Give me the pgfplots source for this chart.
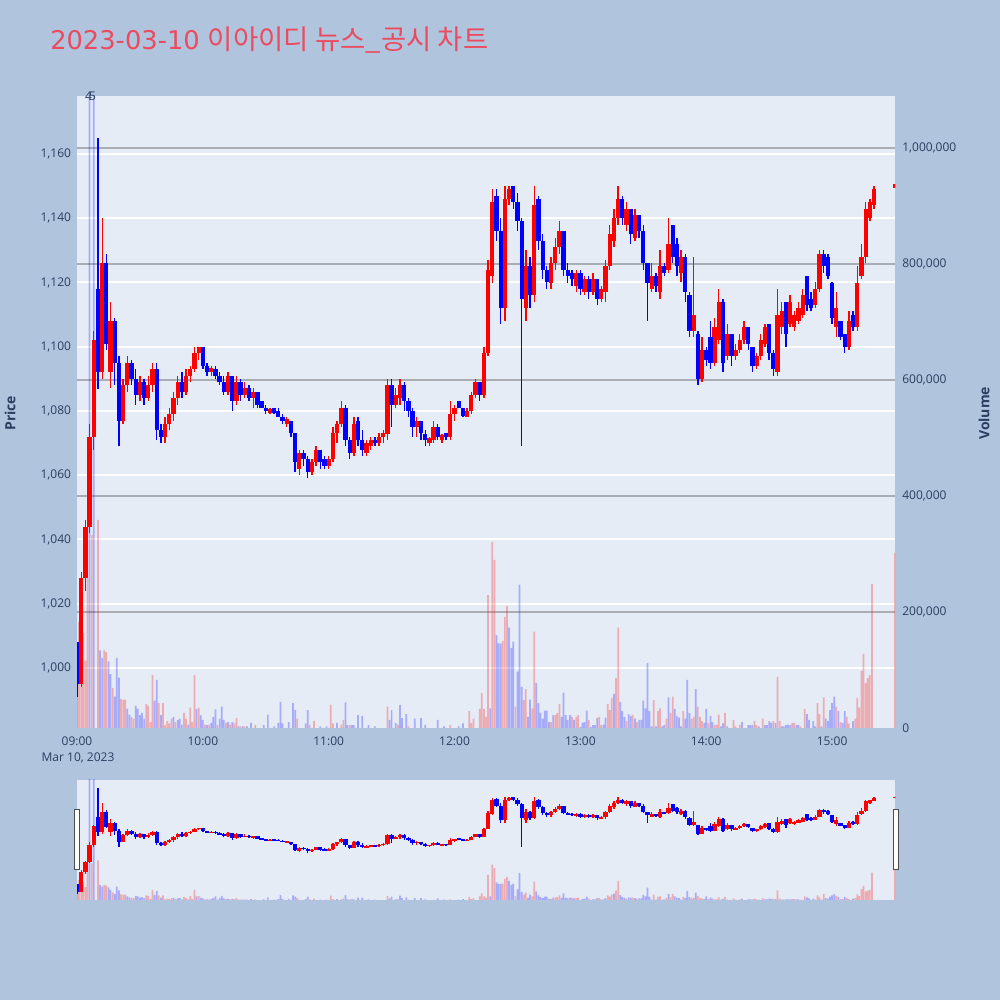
\documentclass[border=0pt]{standalone}
\usepackage{pgfplots}
\pgfplotsset{compat=1.18}
\usepackage{pgfplotstable}
\usepackage{fontspec}
\setmainfont{Open Sans}
\newfontfamily\cjk{Noto Sans CJK KR}
\newfontfamily\dvs{DejaVu Sans}

\definecolor{pagebg}{HTML}{B0C4DE}
\definecolor{plotbg}{HTML}{E5ECF6}
\definecolor{txt}{HTML}{2A3F5F}
\definecolor{ttl}{RGB}{236,75,95}
\definecolor{upc}{RGB}{255,0,0}
\definecolor{dnc}{RGB}{0,0,255}
\definecolor{vgrid}{RGB}{170,174,180}

% 2-minute candles, t = minutes after 09:00
\pgfplotstableread{
t o h l c
2 995 1030 994 1028
4 1028 1046 1024 1044
6 1044 1076 1042 1072
8 1072 1105 1068 1102
12 1092 1140 1090 1126
16 1092 1114 1087 1108
22 1077 1090 1076 1088
24 1088 1097 1086 1095
30 1085 1091 1083 1089
34 1084 1091 1083 1088
36 1088 1095 1086 1093
42 1072 1078 1070 1076
44 1076 1081 1074 1079
46 1079 1086 1077 1084
48 1084 1091 1082 1089
52 1086 1093 1085 1091
54 1091 1094 1089 1093
56 1093 1100 1092 1098
58 1098 1100 1096 1100
64 1092 1094 1091 1093.5
72 1086 1092 1085 1091
76 1083 1091 1082 1089
80 1085 1089 1084 1087
84 1084 1087 1081 1086
92 1079.5 1081 1079 1080.5
100 1076 1078 1075 1077.5
106 1062 1068 1060 1067
112 1061 1065 1060 1064
114 1064 1069 1063 1068
120 1063 1066 1062 1065
122 1065 1075 1064 1073
124 1073 1077 1070 1076
126 1076 1083 1075 1081
132 1067 1078 1066 1076
138 1067 1071 1066 1070
140 1069 1072 1068 1071
144 1070 1073 1069 1072
146 1072 1074 1070 1073
148 1073 1090 1071 1088
152 1082 1087 1081 1085
154 1084 1090 1082 1088
162 1075 1078 1072 1077
168 1070 1072 1069 1071.5
170 1071 1077 1070 1075
174 1071 1073 1070 1072.5
178 1072 1083 1071 1079
180 1079 1082 1077 1081
186 1078 1081 1078 1080
188 1080 1086 1079 1085
190 1085 1090 1084 1089
194 1085 1100 1084 1098
196 1098 1127 1097 1124
198 1122 1149 1120 1145
204 1112 1150 1108 1146
206 1146 1150 1144 1149
214 1112 1130 1108 1125
218 1116 1150 1114 1144
226 1120 1128 1118 1126
228 1126 1134 1124 1131
230 1131 1139 1129 1136
238 1119 1124 1117 1123
242 1117 1122 1116 1121
246 1117 1123 1116 1121
250 1115 1119 1114 1118
252 1117 1127 1114 1125
254 1125 1138 1124 1135
256 1133 1143 1131 1140
258 1140 1150 1138 1146
262 1138 1145 1136 1143
266 1134 1143 1133 1141
274 1118 1126 1117 1122
278 1117 1130 1115 1125
282 1124 1140 1123 1132
288 1123 1130 1120 1128
294 1105 1128 1103 1110
298 1090 1103 1089 1099
304 1095 1109 1094 1106
306 1102 1118 1101 1114
310 1097 1107 1096 1104
314 1097 1101 1096 1099
316 1099 1104 1098 1102
318 1102 1108 1101 1106
324 1094 1098 1093 1097
326 1097 1104 1096 1102
328 1101 1107 1100 1106
334 1092 1118 1091 1110
336 1106 1114 1104 1111
340 1107 1116 1106 1114
342 1106 1111 1105 1110
344 1108 1114 1107 1112
346 1110 1118 1109 1116
352 1113 1120 1112 1118
354 1118 1130 1117 1129
362 1106 1117 1103 1112
368 1100 1111 1099 1108
372 1106 1125 1105 1120
374 1122 1132 1121 1128
376 1128 1145 1126 1143
378 1140 1146 1139 1145
380 1144 1150 1143 1149
390 1149.4 1150.6 1149.4 1150.6
}\candleup

\pgfplotstableread{
t o h l c
0 1008 1008 991 995
10 1118 1165 1087 1092
14 1126 1129 1099 1101
18 1108 1109 1088 1095
20 1095 1097 1069 1077
26 1095 1096 1088 1090
28 1090 1093 1082 1085
32 1089 1090 1082 1084
38 1093 1095 1071 1074
40 1074 1076 1070 1072
50 1089 1092 1084 1086
60 1100 1100 1093 1094
62 1094 1095 1091 1092
66 1093 1094 1090 1091
68 1091 1092 1088 1089
70 1089 1091 1085 1086
74 1091 1091 1080 1083
78 1089 1090 1083 1085
82 1087 1088 1083 1084
86 1086 1086 1081 1082
88 1083 1083 1081 1081
90 1081 1082 1079 1080
94 1081 1081 1079 1079.5
96 1080 1081 1078 1078
98 1078 1079 1076 1077
102 1077 1077 1072 1073
104 1073 1073 1061 1064
108 1067 1068 1063 1065
110 1065 1066 1059 1061
116 1068 1068 1062 1064
118 1065 1066 1062 1063
128 1081 1082 1069 1071
130 1071 1072 1065 1067
134 1077 1078 1069 1071
136 1071 1074 1066 1068
142 1071 1072 1069 1070
150 1088 1090 1075 1082
156 1088 1089 1080 1083
158 1083 1084 1078 1080
160 1080 1081 1072 1075
164 1077 1077 1071 1073
166 1073 1074 1069 1071
172 1075 1076 1071 1072
176 1073 1073 1071 1072
182 1083 1083 1081 1081
184 1081 1081 1078 1078.5
192 1089 1089 1083 1085
200 1147 1149 1133 1136
202 1136 1140 1107 1112
208 1150 1150 1143 1145
210 1145 1148 1136 1139
212 1139 1140 1069 1115
216 1125 1128 1112 1116
220 1146 1147 1130 1133
222 1133 1135 1121 1124
224 1124 1125 1118 1120
232 1136 1136 1122 1124
234 1124 1126 1120 1122
236 1123 1124 1119 1121
240 1123 1124 1116 1118
244 1121 1122 1115 1117
248 1121 1121 1113 1115
260 1146 1147 1138 1140
264 1143 1143 1132 1135
268 1141 1141 1134 1136
270 1136 1138 1124 1126
272 1126 1126 1108 1120
276 1122 1123 1117 1119
280 1125 1126 1122 1123
284 1138 1138 1126 1128
286 1132 1134 1122 1125
290 1128 1129 1114 1117
292 1116 1117 1103 1105
296 1104 1105 1088 1090
300 1099 1100 1094 1096
302 1103 1108 1093 1095
308 1114 1115 1092 1095
312 1104 1104 1094 1097
320 1106 1106 1099 1101
322 1100 1100 1092 1094
330 1107 1107 1096 1098
332 1098 1099 1091 1093
338 1114 1114 1100 1104
348 1122 1122 1111 1113
350 1115 1117 1111 1112
356 1129 1130 1123 1125
358 1128 1129 1121 1122
360 1120 1120 1107 1109
364 1108 1108 1102 1103
366 1104 1104 1098 1100
370 1110 1111 1105 1106
}\candledn

% volume per minute
\pgfplotstableread{
t v
1 183000
2 90000
3 164000
4 116000
5 259000
7 333000
10 359000
13 134000
14 131000
17 69000
21 50000
22 49000
23 49000
26 19000
27 16000
33 41000
34 38000
35 10000
36 91000
39 43000
41 43000
42 5000
43 12000
44 8000
45 16000
47 10000
51 26000
52 16000
54 35000
55 10000
56 91000
58 35000
61 6000
63 6000
67 5000
71 9000
73 6000
75 8000
76 17000
78 3000
80 3000
85 5000
105 16000
111 5000
113 12000
121 40000
122 8000
126 6000
127 14000
130 5000
148 37000
153 6000
158 3000
178 5000
187 29000
188 9000
189 16000
192 33000
193 60000
194 33000
195 19000
196 229000
198 321000
199 290000
203 150000
204 191000
205 210000
209 37000
213 48000
214 67000
217 34000
218 166000
226 10000
228 22000
229 26000
230 41000
236 19000
238 19000
239 22000
244 14000
249 19000
250 5000
253 41000
254 31000
255 52000
257 86000
258 173000
262 12000
265 22000
267 10000
275 48000
277 29000
278 34000
281 16000
283 26000
284 54000
289 29000
293 16000
294 19000
296 37000
297 19000
298 12000
301 9000
304 5000
305 6000
306 23000
309 26000
313 14000
314 3000
316 6000
323 12000
324 5000
327 16000
332 12000
334 88000
335 12000
341 9000
342 9000
345 3000
347 33000
353 43000
354 24000
356 53000
362 37000
364 10000
367 19000
368 8000
371 16000
372 52000
373 35000
374 98000
375 128000
376 78000
377 86000
378 91000
379 248000
390 302000
}\volup

\pgfplotstableread{
t v
0 54000
6 1300000
8 1300000
11 134000
12 121000
15 115000
16 93000
18 54000
19 121000
20 87000
24 33000
25 23000
28 38000
29 33000
30 22000
31 26000
32 16000
37 47000
38 83000
40 22000
46 19000
48 14000
49 16000
50 6000
53 6000
57 33000
59 22000
60 14000
62 5000
64 9000
65 19000
66 32000
68 16000
69 37000
70 14000
72 10000
74 10000
77 3000
79 3000
81 3000
83 9000
89 5000
91 23000
94 3000
96 9000
97 45000
98 8000
101 10000
103 43000
104 31000
109 8000
110 31000
116 3000
119 3000
124 9000
128 44000
129 5000
131 5000
132 5000
134 22000
136 21000
139 5000
142 3000
149 14000
150 31000
152 9000
154 40000
155 17000
157 24000
161 16000
164 17000
166 5000
172 14000
175 3000
182 3000
184 8000
197 34000
200 160000
201 146000
202 146000
206 173000
207 138000
208 149000
210 97000
211 247000
212 71000
215 19000
216 49000
219 78000
220 43000
221 26000
222 16000
223 30000
224 30000
225 10000
227 22000
231 19000
232 61000
233 22000
234 14000
235 22000
237 14000
240 2000
241 9000
242 10000
243 30000
245 2000
246 5000
247 5000
248 17000
251 6000
252 18000
256 59000
259 45000
260 29000
261 19000
263 24000
264 21000
266 16000
268 14000
269 14000
270 47000
271 34000
272 112000
273 29000
274 3000
276 3000
279 3000
280 5000
282 53000
285 33000
286 21000
287 18000
288 3000
290 16000
291 83000
292 26000
295 67000
299 9000
300 33000
302 21000
303 10000
307 3000
308 8000
310 3000
317 10000
320 5000
321 5000
322 5000
325 3000
328 5000
329 5000
330 12000
331 9000
333 9000
336 3000
337 3000
338 5000
339 6000
340 5000
343 5000
344 5000
348 24000
349 14000
351 12000
352 3000
355 3000
357 16000
358 12000
359 31000
360 43000
361 54000
363 29000
365 9000
366 29000
370 12000
}\voldn

\pgfplotsset{
  base/.style={scale only axis, width=613.5bp, xmin=0, xmax=390,
    axis line style={draw=none}, major tick length=0pt,
    ticklabel style={font=\fontsize{9bp}{11bp}\selectfont, text=txt}},
  pricey/.style={ymin=981.32, ymax=1178.05},
  voly/.style={ymin=0, ymax=1089655, scaled y ticks=false},
  mainax/.style={base, at={(57.75bp,204bp)}, anchor=south west, height=474bp},
  slideax/.style={base, at={(57.75bp,75bp)}, anchor=south west, height=90bp,
    xtick=\empty, ytick=\empty},
}

\newcommand{\candles}[2]{%
  \addplot[only marks, mark=*, mark size=0pt, mark options={draw=none, fill=none}, forget plot,
    error bars/.cd, y dir=both, y explicit, error mark=none,
    error bar style={draw=#2, line width=1bp}]
    table[x=t, y expr={(\thisrow{h}+\thisrow{l})/2},
          y error expr={(\thisrow{h}-\thisrow{l})/2}] {#1};
  \addplot[only marks, mark=*, mark size=0pt, mark options={draw=none, fill=none}, forget plot,
    error bars/.cd, y dir=both, y explicit, error mark=none,
    error bar style={draw=#2, line width=3.2bp}]
    table[x=t, y expr={(\thisrow{o}+\thisrow{c})/2},
          y error expr={abs(\thisrow{c}-\thisrow{o})/2}] {#1};
}
\newcommand{\vols}[2]{%
  \addplot[ybar, bar width=1.3bp, bar shift=0pt, fill=#2, fill opacity=0.27,
    draw=none, forget plot] table[x=t, y=v] {#1};
}

\begin{document}
\begin{tikzpicture}
\fill[pagebg] (0,0) rectangle (750bp,750bp);

% price grid and labels
\begin{axis}[mainax, pricey,
  axis background/.style={fill=plotbg},
  ymajorgrids, grid style={white, line width=1.5bp},
  ytick={1000,1020,...,1160},
  yticklabels={{1,000},{1,020},{1,040},{1,060},{1,080},{1,100},{1,120},{1,140},{1,160}},
  yticklabel style={xshift=-1bp},
  xtick={0,60,...,360},
  xticklabels={09:00,10:00,11:00,12:00,13:00,14:00,15:00},
  xticklabel style={yshift=-3bp}]
\end{axis}

% volume
\begin{axis}[mainax, voly,
  ymajorgrids, grid style={vgrid, line width=1.5bp},
  xtick=\empty,
  ytick={200000,400000,600000,800000,1000000},
  yticklabels={{200,000},{400,000},{600,000},{800,000},{1,000,000}},
  extra y ticks={0}, extra y tick labels={0},
  extra y tick style={grid=none},
  yticklabel pos=right, yticklabel style={xshift=2bp}]
\vols{\volup}{upc}
\vols{\voldn}{dnc}
\end{axis}

% candles
\begin{axis}[mainax, pricey, xtick=\empty, ytick=\empty]
\candles{\candleup}{upc}
\candles{\candledn}{dnc}
\end{axis}

% range slider
\begin{axis}[slideax, voly, axis background/.style={fill=plotbg}]
\vols{\volup}{upc}
\vols{\voldn}{dnc}
\end{axis}
\begin{axis}[slideax, pricey]
\candles{\candleup}{upc}
\candles{\candledn}{dnc}
\end{axis}

\draw[fill=white, draw=black!70, line width=0.75bp] (56bp,97.5bp) rectangle (59.25bp,142.5bp);
\draw[fill=white, draw=black!70, line width=0.75bp] (670.2bp,97.5bp) rectangle (673.5bp,142.5bp);

\node[anchor=base west, text=ttl, inner sep=0pt]
  at (37.5bp,713bp) {\dvs\fontsize{19.3bp}{21bp}\selectfont 2023-03-10 \cjk\fontsize{20.6bp}{21bp}\selectfont 이아이디 뉴스\_공시 차트};
\node[rotate=90, text=txt, font=\bfseries\fontsize{10.5bp}{12bp}\selectfont] at (7.5bp,440bp) {Price};
\node[rotate=90, text=txt, font=\bfseries\fontsize{10.5bp}{12bp}\selectfont] at (738bp,440bp) {Volume};
\node[text=txt, font=\fontsize{9bp}{11bp}\selectfont] at (58.5bp,181.9bp) {Mar 10, 2023};
\node[text=txt, font=\fontsize{9bp}{11bp}\selectfont, inner sep=0pt] at (66.5bp,677.5bp) {4};
\node[text=txt, font=\fontsize{9bp}{11bp}\selectfont, inner sep=0pt] at (69.4bp,677.5bp) {5};
\end{tikzpicture}
\end{document}
